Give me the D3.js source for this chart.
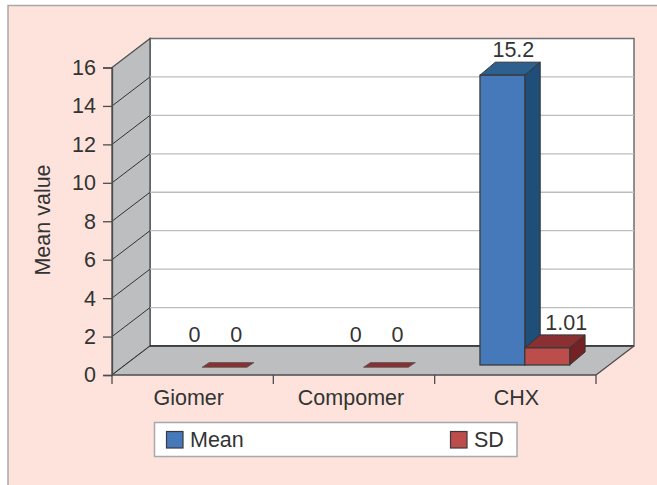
<!DOCTYPE html>
<html>
<head>
<meta charset="utf-8">
<script src="https://cdnjs.cloudflare.com/ajax/libs/d3/7.8.5/d3.min.js"></script>
<style>
    html, body { margin: 0; padding: 0; background: #fff; }
    text { font-family: "Liberation Sans", Arial, sans-serif; font-size: 21.5px; fill: #333; }
</style>
</head>
<body>
<div id="chart"></div>
<script>
// chart data
const categories = ["Giomer", "Compomer", "CHX"];
const seriesNames = ["Mean", "SD"];
const meanValues = [0, 0, 15.2];
const sdValues = [0, 0, 1.01];
const yTicks = [0, 2, 4, 6, 8, 10, 12, 14, 16];

const seriesColors = {
    Mean: {front: "#4579b9", top: "#2d5f8f", side: "#1f4e79"},
    SD: {front: "#bd4d4a", top: "#8a3032", side: "#742224"}
};

const width = 657, height = 485;
const svg = d3.select("#chart").append("svg")
    .attr("width", width)
    .attr("height", height)
    .style("display", "block");

// pink panel
svg.append("rect")
    .attr("x", 8).attr("y", 5.5)
    .attr("width", width).attr("height", height)
    .attr("fill", "#fde3dc")
    .attr("stroke", "#a9a9a9")
    .attr("stroke-width", 1.5);

// scales
const x = d3.scaleBand().domain(categories).range([112, 596]);
const y = d3.scaleLinear().domain([0, 16]).range([375, 67.5]);
const inner = d3.scaleBand().domain(seriesNames).range([45.3, 135]);

// depth of the box the chart sits in
const depthX = 38, depthY = 29;
const dark = "#4d4d4f", wallFill = "#bcbec0";
const pts = arr => arr.map(p => p.join(",")).join(" ");

const left = x.range()[0], right = x.range()[1];

// back wall
svg.append("rect")
    .attr("x", left + depthX).attr("y", y(16) - depthY)
    .attr("width", right - left).attr("height", y(0) - y(16))
    .attr("fill", "#fff")
    .attr("stroke", "#6d6e71")
    .attr("stroke-width", 1.5);

// side wall
svg.append("polygon")
    .attr("points", pts([[left, y(0)], [left, y(16)], [left + depthX, y(16) - depthY], [left + depthX, y(0) - depthY]]))
    .attr("fill", wallFill)
    .attr("stroke", dark)
    .attr("stroke-width", 1.3);

// floor
svg.append("polygon")
    .attr("points", pts([[left, y(0)], [right, y(0)], [right + depthX, y(0) - depthY], [left + depthX, y(0) - depthY]]))
    .attr("fill", wallFill);
svg.append("line")
    .attr("x1", left + depthX).attr("x2", right + depthX)
    .attr("y1", y(0) - depthY).attr("y2", y(0) - depthY)
    .attr("stroke", "#222").attr("stroke-width", 1.3);
svg.append("line")
    .attr("x1", right).attr("x2", right + depthX)
    .attr("y1", y(0)).attr("y2", y(0) - depthY)
    .attr("stroke", dark).attr("stroke-width", 1.3);

// gridlines + diagonals
const inside = yTicks.filter(d => d > 0 && d < 16);
svg.selectAll(".grid").data(inside).enter().append("line")
    .attr("class", "grid")
    .attr("x1", left + depthX).attr("x2", right + depthX)
    .attr("y1", d => y(d) - depthY).attr("y2", d => y(d) - depthY)
    .attr("stroke", "#bcbdc1").attr("stroke-width", 1.3);
svg.selectAll(".diag").data(yTicks.slice(0, -1)).enter().append("line")
    .attr("class", "diag")
    .attr("x1", left).attr("x2", left + depthX)
    .attr("y1", d => y(d)).attr("y2", d => y(d) - depthY)
    .attr("stroke", "#333").attr("stroke-width", 1);

// axes
const yAxis = d3.axisLeft(y).tickValues(yTicks).tickSize(9).tickPadding(7);
const yG = svg.append("g").attr("transform", `translate(${left},0)`).call(yAxis);
const catEdges = [...categories.map(c => x(c)), right];
const xG = svg.append("g");
xG.append("line")
    .attr("x1", left).attr("x2", right)
    .attr("y1", y(0)).attr("y2", y(0))
    .attr("stroke", dark).attr("stroke-width", 1.5);
xG.selectAll(".xtick").data(catEdges).enter().append("line")
    .attr("class", "xtick")
    .attr("x1", d => d).attr("x2", d => d)
    .attr("y1", y(0)).attr("y2", y(0) + 9)
    .attr("stroke", dark).attr("stroke-width", 1.3);
yG.select(".domain").attr("stroke", dark).attr("stroke-width", 1.3);
yG.selectAll(".tick line").attr("stroke", dark).attr("stroke-width", 1.3);
yG.selectAll(".tick text").attr("fill", "#333").style("font-size", "21.5px")
    .style("font-family", '"Liberation Sans", Arial, sans-serif');

xG.selectAll(".xlabel").data(categories).enter().append("text")
    .attr("class", "xlabel")
    .attr("x", (d, i) => x(d) + x.bandwidth() / 2 - [4, 3, -1][i])
    .attr("y", 405)
    .attr("text-anchor", "middle")
    .text(d => d);

svg.append("text")
    .attr("transform", "translate(50,220) rotate(-90)")
    .attr("text-anchor", "middle")
    .text("Mean value");

// bars, front face sits a little in from the front of the floor
const barBase = 365, barShift = 7.7, barDx = 15.4, barDy = 13;
const valueTable = {Mean: meanValues, SD: sdValues};

seriesNames.forEach(name => {
    const c = seriesColors[name];
    categories.forEach((cat, i) => {
        const v = valueTable[name][i];
        const x0 = x(cat) + inner(name);
        const x1 = x0 + inner.bandwidth();
        const top = y(v) - barShift;
        const g = svg.append("g").attr("class", "bar");

        if (v === 0) {
            // empty bars collapse to a thin plate, only SD one shows
            if (name === "SD") {
                g.append("polygon")
                    .attr("points", pts([[x0, top], [x1, top], [x1 + 7, top - 4.7], [x0 + 7, top - 4.7]]))
                    .attr("fill", c.top).attr("stroke", "#555").attr("stroke-width", 0.8);
            }
            return;
        }
        g.append("polygon")
            .attr("points", pts([[x1, top], [x1 + barDx, top - barDy], [x1 + barDx, barBase - barDy], [x1, barBase]]))
            .attr("fill", c.side).attr("stroke", "#333").attr("stroke-width", 1);
        g.append("polygon")
            .attr("points", pts([[x0, top], [x1, top], [x1 + barDx, top - barDy], [x0 + barDx, top - barDy]]))
            .attr("fill", c.top).attr("stroke", "#333").attr("stroke-width", 1);
        g.append("rect")
            .attr("x", x0).attr("y", top)
            .attr("width", x1 - x0).attr("height", barBase - top)
            .attr("fill", c.front).attr("stroke", "#3a3a3c").attr("stroke-width", 1.3);
    });
});

// value labels
const labelNudge = {Mean: 11, SD: 19};
const zeroNudge = {Mean: 14.7, SD: 11.7};
seriesNames.forEach(name => {
    categories.forEach((cat, i) => {
        const v = valueTable[name][i];
        const cx = x(cat) + inner(name) + inner.bandwidth() / 2;
        svg.append("text")
            .attr("class", "value")
            .attr("x", cx + (v === 0 ? zeroNudge[name] : labelNudge[name]))
            .attr("y", v === 0 ? 342 : y(v) - barShift - barDy - 5)
            .attr("text-anchor", "middle")
            .text(v);
    });
});

// legend
const legend = svg.append("g").attr("class", "legend");
legend.append("rect")
    .attr("x", 154.5).attr("y", 422.5)
    .attr("width", 362.5).attr("height", 34)
    .attr("fill", "#fff")
    .attr("stroke", "#a7a9ac").attr("stroke-width", 1.5);
const legendX = d3.scalePoint().domain(seriesNames).range([166.5, 450.5]);
seriesNames.forEach(name => {
    legend.append("rect")
        .attr("x", legendX(name)).attr("y", 431.5)
        .attr("width", 16.5).attr("height", 16.5)
        .attr("fill", seriesColors[name].front)
        .attr("stroke", "#3a3a3c").attr("stroke-width", 1.2);
    legend.append("text")
        .attr("x", legendX(name) + 23.5).attr("y", 447)
        .text(name);
});
</script>
</body>
</html>
